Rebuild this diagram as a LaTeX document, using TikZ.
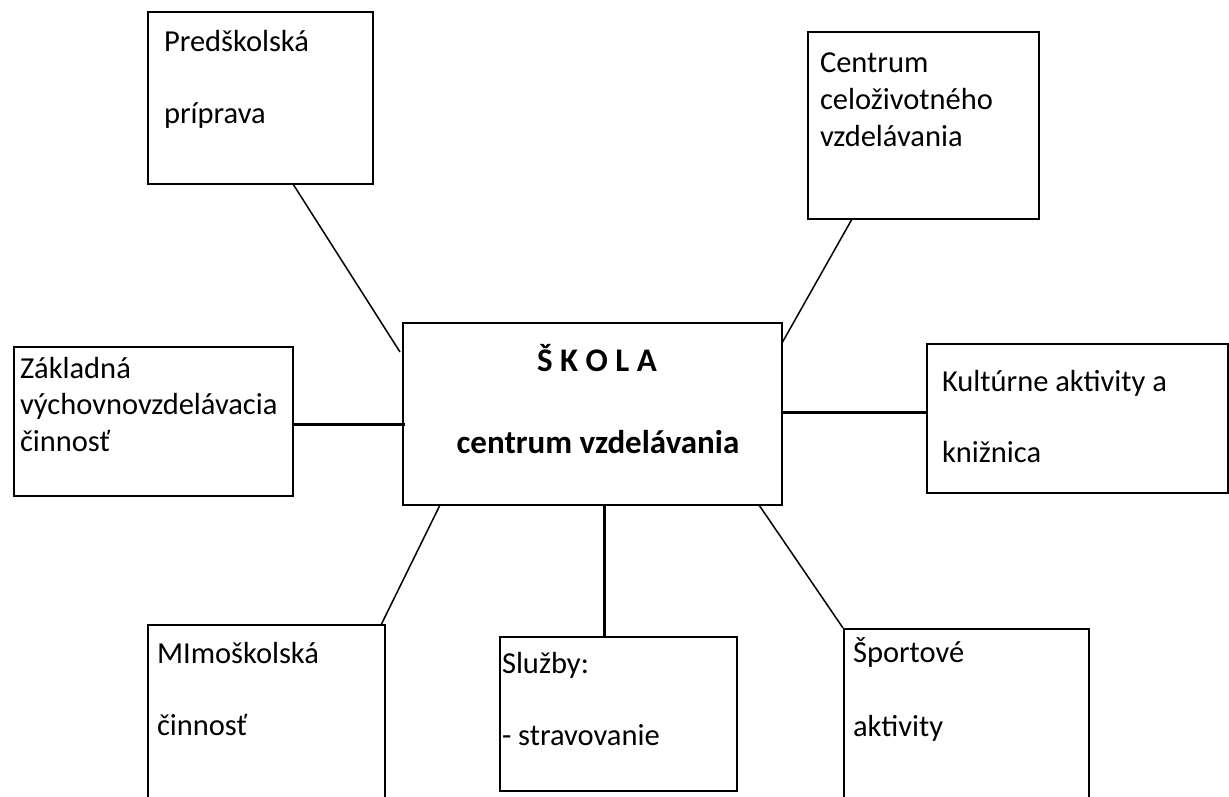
\documentclass[tikz,border=0pt]{standalone}
\usepackage{fontspec}
\setmainfont{Carlito}
\usetikzlibrary{calc}
\tikzset{
  box/.style={draw=black, line width=1.5pt, inner sep=0pt, outer sep=0pt, anchor=north west},
  txt/.style={inner sep=0pt, outer sep=0pt, anchor=base west, font=\fontsize{30.5}{34}\selectfont},
  ctxt/.style={inner sep=0pt, outer sep=0pt, anchor=base, font=\fontsize{33}{37}\selectfont\bfseries},
  thin/.style={draw=black, line width=1.5pt},
  thick/.style={draw=black, line width=3pt}
}
\begin{document}
\begin{tikzpicture}[x=1pt,y=-1pt]
\useasboundingbox[fill=white] (0,0) rectangle (1229,796);
% boxes
\node[box, minimum width=225pt, minimum height=172pt] (pred) at (148,12) {};
\node[box, minimum width=231pt, minimum height=187pt] (cent) at (808,32) {};
\node[box, minimum width=279pt, minimum height=149pt] (zak) at (14,347) {};
\node[box, minimum width=379pt, minimum height=182pt] (skola) at (403,323) {};
\node[box, minimum width=301pt, minimum height=149pt] (kult) at (927,344) {};
\node[box, minimum width=237pt, minimum height=185pt] (mimo) at (148,625) {};
\node[box, minimum width=237pt, minimum height=154pt] (sluz) at (500,637) {};
\node[box, minimum width=245pt, minimum height=180pt] (sport) at (844,629) {};
% texts
\node[txt] (t1) at (164,51) {Predškolská};
\node[txt] (t2) at (164,123) {príprava};
\node[txt] (t3) at (20,378) {Základná};
\node[txt] (t4) at (20,414) {výchovnovzdelávacia};
\node[txt] (t5) at (20,451) {činnosť};
\node[txt] (t6) at (820,72) {Centrum};
\node[txt] (t7) at (820,109) {celoživotného};
\node[txt] (t8) at (820,146) {vzdelávania};
\node[txt] (t9) at (942,391) {Kultúrne aktivity a};
\node[txt] (t10) at (942,462) {knižnica};
\node[ctxt] (t11) at (597,371) {Š K O L A};
\node[ctxt] (t12) at (598,453) {centrum vzdelávania};
\node[txt] (t13) at (157,663) {MImoškolská};
\node[txt] (t14) at (157,735) {činnosť};
\node[txt] (t15) at (502,673) {Služby:};
\node[txt] (t16) at (502,745) {- stravovanie};
\node[txt] (t17) at (853,662) {Športové};
\node[txt] (t18) at (853,736) {aktivity};
% connectors
\draw[thin] ($(pred.south west)+(145,0)$) -- ($(skola.north west)+(-3,29)$);
\draw[thin] ($(cent.south west)+(44,0)$) -- ($(skola.north east)+(0,20)$);
\draw[thick] (zak.east |- 0,424) -- ($(skola.west |- 0,424)+(2,0)$);
\draw[thick] (skola.east |- 0,412) -- (kult.west |- 0,412);
\draw[thin] ($(skola.south west)+(37,0)$) -- ($(mimo.north west)+(233,0)$);
\draw[thick] (sluz.north -| 604,0) -- (skola.south -| 604,0);
\draw[thin] ($(skola.south west)+(356,0)$) -- ($(sport.north west)+(-1,-1)$);
\end{tikzpicture}
\end{document}
